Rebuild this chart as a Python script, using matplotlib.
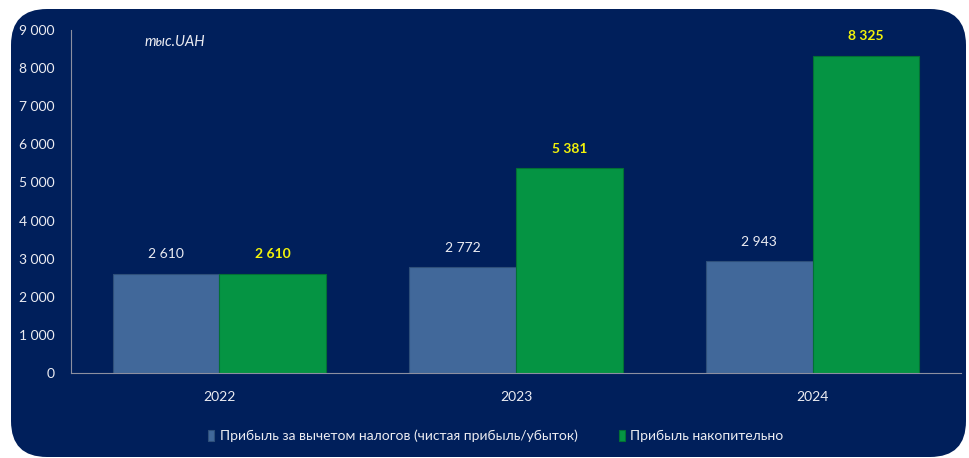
import numpy as np
import matplotlib.pyplot as plt
from matplotlib.patches import FancyBboxPatch

# Données
years = ["2022", "2023", "2024"]
net_profit = [2610, 2772, 2943]
cum_profit = [2610, 5381, 8325]
series_names = ["Прибыль за вычетом налогов (чистая прибыль/убыток)",
                "Прибыль накопительно"]
yticks = [0, 1000, 2000, 3000, 4000, 5000, 6000, 7000, 8000, 9000]

def fmt(v):
    return f"{v:,}".replace(",", " ")

navy = "#001F5B"
blue = "#41689A"
green = "#059443"
txt = "#ECECF2"
font = "Lato"

W, H = 969, 458
fig = plt.figure(figsize=(W / 100, H / 100), dpi=100)
fig.patch.set_facecolor("white")

# Panneau arrondi (fond en pixels)
bg = fig.add_axes([0, 0, 1, 1], zorder=-1)
bg.set_xlim(0, W)
bg.set_ylim(H, 0)
bg.axis("off")
bg.add_patch(FancyBboxPatch((11, 9), 955, 448,
                            boxstyle="round,pad=0,rounding_size=36",
                            facecolor=navy, edgecolor="none"))

ax = fig.add_axes([71 / W, 1 - 373 / H, 890 / W, (373 - 30) / H])
ax.set_facecolor("none")

x = np.arange(len(years))
w = 0.36
ax.bar(x - w / 2, net_profit, w, color=blue, edgecolor="#2E4F7A",
       linewidth=0.8, label=series_names[0], zorder=2)
ax.bar(x + w / 2, cum_profit, w, color=green, edgecolor="#037034",
       linewidth=0.8, label=series_names[1], zorder=2)

for xi, v in zip(x - w / 2, net_profit):
    ax.text(xi, v + 350, fmt(v), ha="center", va="bottom", color=txt,
            fontsize=10, family=font)
for xi, v in zip(x + w / 2, cum_profit):
    ax.text(xi, v + 350, fmt(v), ha="center", va="bottom", color="#F2F20A",
            fontsize=10, fontweight="bold", family=font)

ax.set_xlim(-0.5, 2.5)
ax.set_ylim(0, 9000)
ax.set_yticks(yticks)
ax.set_yticklabels([fmt(t) for t in yticks])
ax.set_xticks(x)
ax.set_xticklabels(years)
ax.tick_params(axis="y", length=0, pad=12, colors=txt, labelsize=10)
ax.tick_params(axis="x", length=0, pad=13, colors=txt, labelsize=10)
for lab in ax.get_xticklabels() + ax.get_yticklabels():
    lab.set_family(font)

for s in ["top", "right"]:
    ax.spines[s].set_visible(False)
ax.spines["left"].set_color("#8C8FA0")
ax.spines["bottom"].set_color("#8C8FA0")

ax.text(0.083, 0.985, "тыс.UAH", transform=ax.transAxes, ha="left", va="top",
        color=txt, fontsize=10.5, style="italic", family=font)

leg = fig.legend(loc="center", bbox_to_anchor=(496 / W, 1 - 436 / H), ncol=2,
                 frameon=False, handlelength=0.4, handleheight=0.9,
                 handletextpad=0.4, columnspacing=3.0,
                 prop={"family": font, "size": 10})
for t in leg.get_texts():
    t.set_color(txt)

fig.savefig("out.png", dpi=100, facecolor=fig.get_facecolor())
